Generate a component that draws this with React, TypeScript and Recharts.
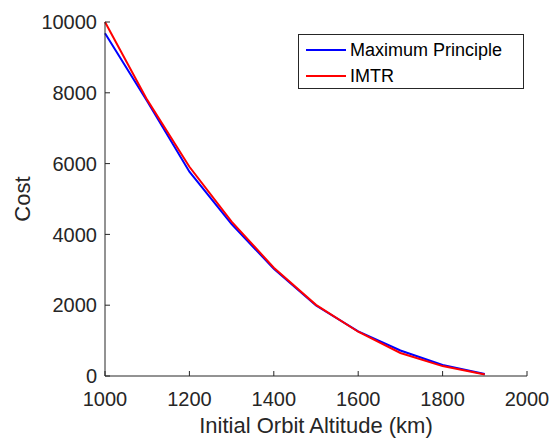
import { Line, LineChart, XAxis, YAxis } from "recharts";

const altitudes = [1000, 1100, 1200, 1300, 1400, 1500, 1600, 1700, 1800, 1900];
const maxPrinciple = [9680, 7760, 5770, 4290, 3030, 1990, 1260, 720, 310, 55];
const imtr = [10000, 7800, 5910, 4360, 3060, 2010, 1250, 650, 280, 45];

const xTicks = [1000, 1200, 1400, 1600, 1800, 2000];
const yTicks = [0, 2000, 4000, 6000, 8000, 10000];

const FONT = '"Liberation Sans", Arial, Helvetica, sans-serif';
const INK = "#262626";

const data = altitudes.map((alt, i) => ({
	alt,
	mp: maxPrinciple[i],
	imtr: imtr[i],
}));

const legendItems = [
	{ name: "Maximum Principle", color: "#0000ff" },
	{ name: "IMTR", color: "#ff0000" },
];

// matlab-style boxed legend, laid over the plot
function BoxLegend() {
	return (
		<div
			style={{
				position: "absolute",
				left: 298,
				top: 34,
				boxSizing: "border-box",
				width: 226,
				height: 55,
				border: `1px solid ${INK}`,
				background: "#fff",
				paddingTop: 2,
				fontFamily: FONT,
				fontSize: 18,
				color: "#000",
			}}
		>
			{legendItems.map((item) => (
				<div
					key={item.name}
					style={{ display: "flex", alignItems: "center", height: 26 }}
				>
					<div
						style={{
							marginLeft: 7,
							width: 40,
							height: 2,
							background: item.color,
						}}
					/>
					<span style={{ marginLeft: 4 }}>{item.name}</span>
				</div>
			))}
		</div>
	);
}

const emptyTick = () => <g />;

export default function App() {
	return (
		<div
			style={{
				position: "absolute",
				left: 0,
				top: 0,
				width: 550,
				height: 439,
				background: "#fff",
			}}
		>
			<LineChart
				width={550}
				height={439}
				data={data}
				margin={{ top: 22, right: 23, bottom: 0, left: 0 }}
			>
				<XAxis
					dataKey="alt"
					type="number"
					domain={[1000, 2000]}
					ticks={xTicks}
					height={63}
					stroke={INK}
					tickSize={-5}
					tickMargin={21}
					tick={{ fill: INK, fontSize: 20, fontFamily: FONT }}
					label={{
						value: "Initial Orbit Altitude (km)",
						position: "insideBottom",
						offset: 6,
						fill: INK,
						fontSize: 22,
						fontFamily: FONT,
					}}
				/>
				<XAxis
					xAxisId="top"
					orientation="top"
					dataKey="alt"
					type="number"
					domain={[1000, 2000]}
					ticks={xTicks}
					height={0}
					stroke={INK}
					tickSize={-5}
					tick={emptyTick}
				/>
				<YAxis
					type="number"
					domain={[0, 10000]}
					ticks={yTicks}
					width={105}
					stroke={INK}
					tickSize={-5}
					tickMargin={13}
					tick={{ fill: INK, fontSize: 20, fontFamily: FONT }}
					label={{
						content: (props: any) => {
							const vb = props.viewBox;
							const cy = vb.y + vb.height / 2;
							return (
								<text
									x={30}
									y={cy}
									transform={`rotate(-90 30 ${cy})`}
									textAnchor="middle"
									fill={INK}
									fontSize={22}
									fontFamily={FONT}
								>
									Cost
								</text>
							);
						},
					}}
				/>
				<YAxis
					yAxisId="right"
					orientation="right"
					type="number"
					domain={[0, 10000]}
					ticks={yTicks}
					width={0}
					stroke={INK}
					tickSize={-5}
					tick={emptyTick}
				/>
				<Line
					dataKey="mp"
					stroke="#0000ff"
					strokeWidth={2}
					dot={false}
					isAnimationActive={false}
				/>
				<Line
					dataKey="imtr"
					stroke="#ff0000"
					strokeWidth={2}
					dot={false}
					isAnimationActive={false}
				/>
			</LineChart>
			<BoxLegend />
		</div>
	);
}
